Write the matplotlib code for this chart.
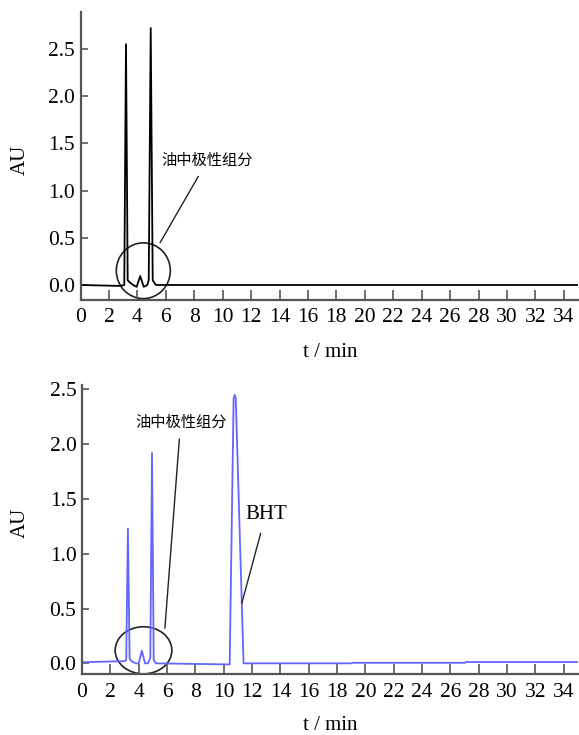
import matplotlib
matplotlib.use("Agg")
import matplotlib.pyplot as plt
from matplotlib.patches import Ellipse

# ---- data ----
t_top = [0, 2.8, 3.08, 3.2, 3.32, 3.45, 3.7, 3.95, 4.2, 4.45, 4.7, 4.8, 4.94, 5.08, 5.3, 6, 35]
au_top = [0.0, -0.01, 0.0, 2.55, 0.05, 0.03, 0.0, -0.02, 0.095, -0.02, 0.0, 0.05, 2.72, 0.05, 0.0, 0.0, 0.0]

t_bot = [0, 3.0, 3.12, 3.24, 3.36, 3.5, 3.8, 4.0, 4.22, 4.45, 4.65, 4.82, 4.94, 5.06, 5.2,
         10.42, 10.7, 10.77, 10.85, 11.4, 19, 19.1, 27, 27.1, 35]
au_bot = [0.01, 0.02, 0.03, 1.23, 0.04, 0.02, 0.0, 0.0, 0.115, 0.0, 0.0, 0.05, 1.92, 0.03, 0.0,
          -0.01, 2.42, 2.45, 2.42, 0.0, 0.0, 0.005, 0.005, 0.012, 0.012]

x_ticks = list(range(0, 35, 2))
y_ticks = [0.0, 0.5, 1.0, 1.5, 2.0, 2.5]
label_polar = "油中极性组分"
label_bht = "BHT"

plt.rcParams['font.family'] = ['Liberation Serif', 'Noto Sans CJK SC', 'DejaVu Sans']

fig = plt.figure(figsize=(5.79, 7.35), dpi=100)
spine_col = '#555555'

def style(ax, ylim):
    ax.set_xlim(0, 35)
    ax.set_ylim(*ylim)
    ax.set_xticks(x_ticks)
    ax.set_yticks(y_ticks)
    ax.set_yticklabels([f"{v:.1f}" for v in y_ticks])
    for s in ['top', 'right']:
        ax.spines[s].set_visible(False)
    for s in ['left', 'bottom']:
        ax.spines[s].set_color(spine_col)
        ax.spines[s].set_linewidth(1.6)
    ax.tick_params(axis='x', direction='in', length=7, width=1.2, color=spine_col,
                   labelsize=15.5, pad=6)
    ax.tick_params(axis='y', direction='in', length=5, width=1.2, color=spine_col,
                   labelsize=15.5, pad=4)

# top panel
ax1 = fig.add_axes([80.5/579, 1-300/735, 497.5/579, 288/735])
ax1.plot(t_top, au_top, color='black', lw=1.3)
style(ax1, (-0.159, 2.89))
ax1.add_patch(Ellipse((4.42, 0.151), 3.8, 0.59, fill=False, ec='#222222', lw=1.2))
ax1.annotate(label_polar, xy=(5.6, 0.448), xytext=(8.94, 1.32),
             ha='center', va='center', fontsize=11, family=['Noto Sans CJK SC'],
             arrowprops=dict(arrowstyle='-', color='#222222', lw=1.0,
                             shrinkA=4, shrinkB=0))
fig.text(20/579, 1-160/735, 'AU', rotation=90, ha='center', va='center', fontsize=15)
fig.text(330/579, 1-352/735, 't / min', ha='center', va='center', fontsize=15)

# bottom panel
ax2 = fig.add_axes([82/579, 1-674.3/735, 496/579, 289.3/735])
ax2.plot(t_bot, au_bot, color='#6464ff', lw=1.3)
style(ax2, (-0.1, 2.54))
ax2.add_patch(Ellipse((4.34, 0.119), 4.0, 0.43, fill=False, ec='#222222', lw=1.2))
ax2.annotate(label_polar, xy=(5.85, 0.32), xytext=(6.96, 2.20),
             ha='center', va='center', fontsize=11, family=['Noto Sans CJK SC'],
             arrowprops=dict(arrowstyle='-', color='#222222', lw=1.0,
                             shrinkA=4, shrinkB=0))
ax2.annotate(label_bht, xy=(11.28, 0.55), xytext=(12.97, 1.36),
             ha='center', va='center', fontsize=15,
             arrowprops=dict(arrowstyle='-', color='#222222', lw=1.0,
                             shrinkA=5, shrinkB=0))
fig.text(20/579, 1-523/735, 'AU', rotation=90, ha='center', va='center', fontsize=15)
fig.text(330/579, 1-726/735, 't / min', ha='center', va='center', fontsize=15)

fig.savefig('out.png', dpi=100)
